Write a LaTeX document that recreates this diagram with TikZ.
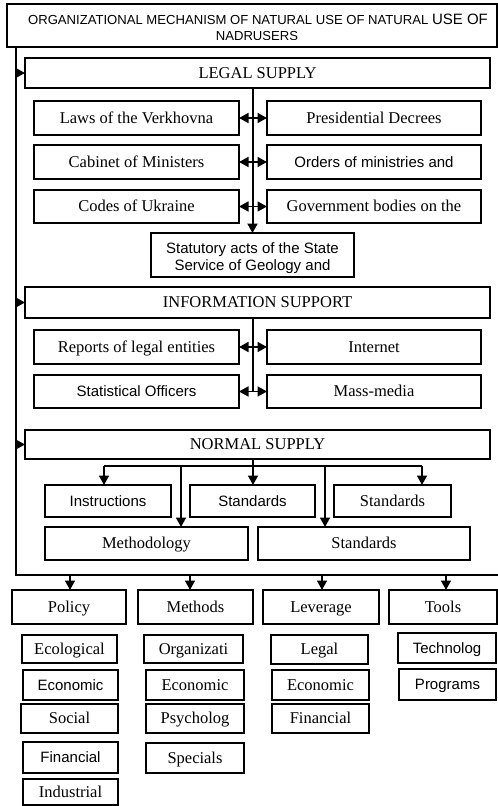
\documentclass[tikz,border=0pt]{standalone}
\usepackage{fontspec}
\setmainfont{Liberation Serif}
\newfontfamily\arialfont{Liberation Sans}
\usetikzlibrary{arrows.meta}

% box given by its corners: name, x1, y1, x2, y2, extra style, text
\newcommand\bx[7]{%
  \node[box,#6,minimum width={(#4-#2)*1pt},minimum height={(#5-#3)*1pt}]
    (#1) at ({(#2+#4)/2},{(#3+#5)/2}) {#7};}

\tikzset{
  box/.style={draw, line width=1.1pt, inner sep=0pt, outer sep=0pt, align=center,
              text height=10.5pt, text depth=0pt,
              font=\fontsize{16.5}{18}\selectfont},
  sf/.style={font=\arialfont\fontsize{15}{17}\selectfont},
  hd/.style={font=\fontsize{16.5}{18}\selectfont},
  lbl/.style={inner sep=0pt, anchor=base},
  wire/.style={line width=1.7pt},
  tip/.tip={Triangle[length=9.5pt,width=10pt]},
  arr/.style={line width=1.7pt, -tip},
  dbl/.style={line width=1.7pt, tip-tip},
}

\begin{document}
\begin{tikzpicture}[x=1pt,y=-1pt]
\useasboundingbox[fill=white] (0,0) rectangle (498,806);

% heading
\bx{title}{7}{4}{497}{47}{}{}
\begin{scope}
  \clip (8,5) rectangle (496,39.3);
  \node[lbl, font=\arialfont\fontsize{13.1}{15}\selectfont] (t1) at (258,24)
    {ORGANIZATIONAL MECHANISM OF NATURAL USE OF NATURAL {\fontsize{15}{17}\selectfont USE OF}};
  \node[lbl, font=\arialfont\fontsize{13.1}{15}\selectfont] (t2) at (257,40.5)
    {NADRUSERS};
\end{scope}

% legal supply
\bx{legal}{25}{58}{490}{88}{hd}{LEGAL SUPPLY}
\bx{l1}{34}{101}{239}{135}{}{Laws of the Verkhovna}
\bx{r1}{267}{101}{481}{135}{}{Presidential Decrees}
\bx{l2}{34}{145}{239}{179}{}{Cabinet of Ministers}
\bx{r2}{267}{145}{481}{179}{sf}{Orders of ministries and}
\bx{l3}{34}{190}{239}{223}{}{Codes of Ukraine}
\bx{r3}{267}{190}{481}{223}{}{Government bodies on the}
\bx{stat}{151}{233}{354}{277}{}{}
\node[lbl, font=\arialfont\fontsize{15}{17}\selectfont] (s1) at (252.5,253) {Statutory acts of the State};
\node[lbl, font=\arialfont\fontsize{15}{17}\selectfont] (s2) at (252.5,270) {Service of Geology and};

% information support
\bx{info}{25}{287}{490}{318}{hd}{INFORMATION SUPPORT}
\bx{i1l}{34}{330}{239}{364}{}{Reports of legal entities}
\bx{i1r}{267}{330}{481}{364}{}{Internet}
\bx{i2l}{34}{375}{239}{408}{sf}{Statistical Officers}
\bx{i2r}{267}{375}{481}{408}{}{Mass-media}

% normal supply
\bx{norm}{25}{430}{490}{459}{hd}{NORMAL SUPPLY}
\bx{n1}{45}{485}{171}{517}{sf}{Instructions}
\bx{n2}{190}{485}{315}{517}{sf}{Standards}
\bx{n3}{334}{485}{451}{517}{}{Standards}
\bx{m1}{45}{527}{248}{560}{}{Methodology}
\bx{m2}{258}{527}{470}{560}{}{Standards}

% lower row of headings
\bx{pol}{12}{590}{126}{624}{}{Policy}
\bx{met}{138}{590}{253}{624}{}{Methods}
\bx{lev}{263}{590}{379}{624}{}{Leverage}
\bx{too}{389}{590}{497}{624}{}{Tools}

% policy
\bx{p1}{22}{635}{117}{663}{}{Ecological}
\bx{p2}{23}{670}{118}{700}{sf}{Economic}
\bx{p3}{21}{704}{118}{733}{}{Social}
\bx{p4}{23}{742}{118}{773}{sf}{Financial}
\bx{p5}{23}{779}{118}{805}{}{Industrial}
% methods
\bx{q1}{144}{635}{243}{663}{}{Organizati}
\bx{q2}{146}{670}{244}{700}{}{Economic}
\bx{q3}{146}{704}{244}{733}{}{Psycholog}
\bx{q4}{146}{743}{244}{773}{}{Specials}
% leverage
\bx{v1}{271}{635}{368}{664}{}{Legal}
\bx{v2}{272}{670}{369}{700}{}{Economic}
\bx{v3}{272}{704}{369}{733}{}{Financial}
% tools
\bx{w1}{398}{633}{496}{663}{sf}{Technolog}
\bx{w2}{399}{669}{496}{700}{sf}{Programs}

% left trunk and lower bus
\coordinate (busL) at (16,575);
\coordinate (busR) at (498,575);
\draw[wire] (title.south -| busL) -- (busL) -- (busR);
\draw[arr] (legal.west -| busL) -- (legal.west);
\draw[arr] (info.west -| busL) -- (info.west);
\draw[arr] (norm.west -| busL) -- (norm.west);

% legal supply links
\draw[arr, line width=2pt] (legal.south -| stat.north) -- (stat.north);
\draw[dbl] (l1.east) -- (r1.west);
\draw[dbl] (l2.east) -- (r2.west);
\draw[dbl] (l3.east) -- (r3.west);

% information links
\coordinate (ix) at (253,0);
\draw[wire] (info.south -| ix) -- (i2l.east -| ix);
\draw[dbl] (i1l.east) -- (i1r.west);
\draw[dbl] (i2l.east) -- (i2r.west);

% normal supply links
\coordinate (nb) at (253,466);
\coordinate (nbL) at (104,466);
\coordinate (nbR) at (422,466);
\coordinate (nbA) at (181,466);
\coordinate (nbB) at (325,466);
\draw[wire] (norm.south -| nb) -- (nb);
\draw[wire] (nbL) -- (nbR);
\draw[arr] (nbL) -- (nbL |- n1.north);
\draw[arr] (nb) -- (nb |- n2.north);
\draw[arr] (nbR) -- (nbR |- n3.north);
\draw[arr] (nbA) -- (nbA |- m1.north);
\draw[arr] (nbB) -- (nbB |- m2.north);

% lower bus arrows
\coordinate (b1) at (70,575);
\coordinate (b2) at (190,575);
\coordinate (b3) at (322,575);
\coordinate (b4) at (446,575);
\draw[arr] (b1) -- (b1 |- pol.north);
\draw[arr] (b2) -- (b2 |- met.north);
\draw[arr] (b3) -- (b3 |- lev.north);
\draw[arr] (b4) -- (b4 |- too.north);
\end{tikzpicture}
\end{document}
